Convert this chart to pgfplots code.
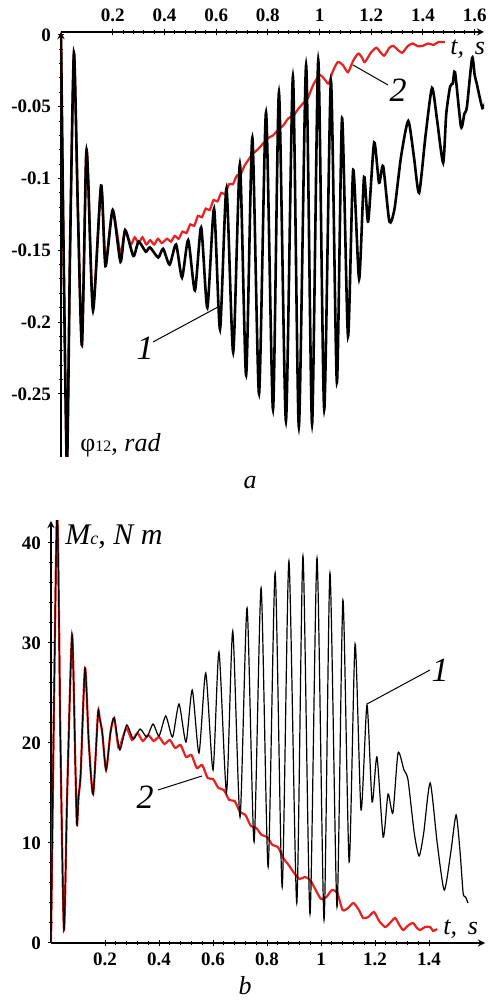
\documentclass[border=0pt]{standalone}
\usepackage{fontspec}
\setmainfont{Liberation Serif}
\usepackage{pgfplots}
\pgfplotsset{compat=1.18}
\definecolor{cred}{RGB}{232,32,32}
\pgfplotsset{
  common/.style={
    scale only axis, anchor=south west,
    axis line style={-, line width=0.6pt},
    tick align=outside,
    major tick length=3pt, minor tick length=1.6pt,
    tick style={black, line width=0.5pt},
    minor x tick num=4, minor y tick num=4,
    /pgf/number format/.cd, fixed, precision=2, assume math mode=true,
  },
}
\begin{document}
\begin{tikzpicture}[x=1pt,y=1pt]
\useasboundingbox (0,0) rectangle (245.5,500.5);
% ---------------- panel a ----------------
\begin{axis}[common,
  width=211.5pt, height=212.5pt, at={(30.5pt,272pt)},
  xmin=0, xmax=1.636, ymin=-0.294, ymax=0.002,
  axis x line=top, axis y line=left,
  xtick={0.2,0.4,0.6,0.8,1,1.2,1.4,1.6},
  ytick={-0.25,-0.2,-0.15,-0.1,-0.05,0},
  every tick label/.append style={font=\fontsize{9.5}{10}\selectfont\bfseries},
]
\addplot[cred, line width=1.1pt, smooth, tension=0.4] coordinates {
(0,0) (0.01,-0.15) (0.023,-0.30) (0.035,-0.15) (0.05,-0.0125) (0.065,-0.12)
(0.081,-0.216) (0.097,-0.085) (0.105,-0.10) (0.124,-0.19) (0.155,-0.105)
(0.172,-0.158) (0.2,-0.122) (0.23,-0.152) (0.248,-0.136) (0.27,-0.146)
(0.285,-0.141) (0.3,-0.145) (0.315,-0.141) (0.33,-0.146) (0.345,-0.143)
(0.36,-0.146) (0.375,-0.142) (0.39,-0.145) (0.41,-0.142) (0.425,-0.144)
(0.44,-0.140) (0.455,-0.142) (0.47,-0.137) (0.485,-0.138) (0.5,-0.132)
(0.515,-0.133) (0.53,-0.126) (0.545,-0.127) (0.56,-0.121) (0.575,-0.122)
(0.59,-0.115) (0.605,-0.116) (0.62,-0.110) (0.635,-0.111) (0.65,-0.104)
(0.665,-0.104) (0.68,-0.098) (0.695,-0.097) (0.71,-0.091) (0.725,-0.087)
(0.74,-0.083) (0.76,-0.080) (0.78,-0.076) (0.8,-0.072) (0.82,-0.070)
(0.84,-0.066) (0.86,-0.063) (0.88,-0.058) (0.9,-0.056) (0.92,-0.051)
(0.94,-0.047) (0.955,-0.044) (0.975,-0.035) (1.0,-0.028) (1.02,-0.031)
(1.035,-0.034) (1.05,-0.026) (1.07,-0.019) (1.09,-0.021) (1.11,-0.026)
(1.13,-0.018) (1.15,-0.013) (1.165,-0.016) (1.175,-0.019) (1.2,-0.012)
(1.22,-0.009) (1.235,-0.012) (1.25,-0.0145) (1.27,-0.009) (1.285,-0.0076)
(1.3,-0.010) (1.32,-0.0125) (1.34,-0.008) (1.36,-0.006) (1.38,-0.008)
(1.40,-0.0076) (1.42,-0.006) (1.44,-0.007) (1.46,-0.005) (1.485,-0.005)
};
\addplot[black, line width=1.3pt, smooth, tension=0.4] coordinates {
(0,0) (0.01,-0.15) (0.023,-0.30) (0.035,-0.15) (0.05,-0.0125) (0.065,-0.12)
(0.081,-0.216) (0.097,-0.085) (0.105,-0.10) (0.124,-0.192) (0.155,-0.105)
(0.172,-0.161) (0.2,-0.122) (0.23,-0.158) (0.248,-0.136) (0.28,-0.154)
(0.3,-0.144) (0.328,-0.151) (0.344,-0.148) (0.376,-0.155) (0.395,-0.149)
(0.42,-0.160) (0.445,-0.146) (0.468,-0.169) (0.492,-0.143) (0.518,-0.178)
(0.542,-0.134) (0.566,-0.190) (0.592,-0.121) (0.615,-0.205) (0.64,-0.107)
(0.666,-0.221) (0.692,-0.090) (0.716,-0.237) (0.74,-0.0715) (0.766,-0.250)
(0.793,-0.054) (0.82,-0.261) (0.843,-0.040) (0.87,-0.269) (0.897,-0.029)
(0.92,-0.273) (0.948,-0.021) (0.971,-0.271) (0.995,-0.0175) (1.018,-0.261)
(1.044,-0.032) (1.067,-0.242) (1.087,-0.058) (1.11,-0.210) (1.13,-0.094)
(1.153,-0.170) (1.172,-0.099) (1.188,-0.130) (1.211,-0.075) (1.23,-0.103)
(1.246,-0.0915) (1.27,-0.13) (1.29,-0.121) (1.315,-0.085) (1.343,-0.06)
(1.365,-0.085) (1.385,-0.11) (1.41,-0.07) (1.435,-0.037) (1.455,-0.06)
(1.478,-0.089) (1.49,-0.055) (1.505,-0.036) (1.515,-0.034) (1.524,-0.026)
(1.547,-0.064) (1.56,-0.055) (1.57,-0.05) (1.59,-0.016) (1.6,-0.028)
(1.608,-0.034) (1.63,-0.051) (1.645,-0.045)
};
\end{axis}
% ---------------- panel b ----------------
\begin{axis}[common,
  width=217pt, height=211pt, at={(25.5pt,29pt)},
  xmin=0, xmax=1.607, ymin=0, ymax=42.2,
  axis x line=bottom, axis y line=left,
  xtick={0.2,0.4,0.6,0.8,1,1.2,1.4},
  ytick={0,10,20,30,40},
  every tick label/.append style={font=\fontsize{9.5}{10}\selectfont\bfseries},
]
\addplot[cred, line width=1.1pt, smooth, tension=0.4] coordinates {
(0,0) (0.022,43) (0.035,20) (0.048,1.3) (0.06,15) (0.078,30.8) (0.09,18)
(0.096,11.8) (0.102,14.6) (0.11,17) (0.126,27.5) (0.14,20) (0.156,14.9)
(0.174,23.0) (0.18,22.5) (0.19,21) (0.204,17.3) (0.22,21) (0.234,22.5)
(0.25,19.5) (0.265,20.5) (0.28,21.5) (0.30,20.3) (0.32,21.0) (0.34,20.2)
(0.36,20.8) (0.38,20.2) (0.40,20.6) (0.42,19.9) (0.44,20.3) (0.46,19.5)
(0.48,19.8) (0.50,18.6) (0.52,18.8) (0.54,17.5) (0.56,17.8) (0.58,16.5)
(0.60,16.4) (0.62,15.5) (0.64,15.3) (0.66,14.3) (0.68,14.2) (0.70,13.1)
(0.72,12.8) (0.74,11.7) (0.76,11.5) (0.78,10.8) (0.80,10.6) (0.82,9.8)
(0.84,9.6) (0.86,8.5) (0.88,7.8) (0.90,7.0) (0.92,6.4) (0.94,6.6) (0.96,6.3)
(0.98,5.3) (1.0,4.4) (1.02,4.6) (1.04,5.3) (1.06,5.0) (1.08,3.3) (1.10,3.5)
(1.12,4.0) (1.14,3.3) (1.156,2.5) (1.175,2.6) (1.196,3.1) (1.215,2.2)
(1.237,1.6) (1.255,2.0) (1.274,2.5) (1.29,1.8) (1.304,1.3) (1.32,1.7)
(1.34,2.0) (1.355,1.5) (1.367,1.3) (1.385,1.6) (1.404,1.6) (1.415,1.2)
(1.43,1.4)
};
\addplot[black, line width=0.6pt, smooth, tension=0.4] coordinates {
(0,0) (0.022,43) (0.035,20) (0.048,1.3) (0.06,15) (0.078,30.8) (0.09,18)
(0.096,11.8) (0.102,14.6) (0.11,17) (0.126,27.5) (0.14,20) (0.156,14.9)
(0.174,23.0) (0.18,22.5) (0.19,21) (0.204,17.3) (0.22,21) (0.234,22.5)
(0.255,19.3) (0.28,21.8) (0.305,20.4) (0.33,21.4) (0.355,20.6) (0.378,21.9)
(0.40,20.7) (0.425,22.7) (0.45,20.6) (0.474,23.9) (0.50,20.1) (0.523,25.3)
(0.548,19.0) (0.573,27.0) (0.60,17.3) (0.622,29.1) (0.65,15.1) (0.673,31.2)
(0.70,12.6) (0.726,33.5) (0.752,10.1) (0.778,35.5) (0.804,7.6) (0.83,37.0)
(0.856,5.6) (0.881,38.2) (0.91,4.0) (0.933,38.7) (0.959,2.9) (0.985,38.5)
(1.011,2.3) (1.033,37.0) (1.059,3.6) (1.081,34.3) (1.104,8.1) (1.126,29.9)
(1.148,13.3) (1.17,23.8) (1.189,14.1) (1.207,18.6) (1.23,10.6) (1.248,14.9)
(1.266,13.0) (1.285,19.0) (1.307,17.3) (1.322,16.3) (1.345,11) (1.363,8.7)
(1.38,11) (1.404,16.0) (1.43,10) (1.456,5.3) (1.48,9) (1.5,12.8) (1.515,9)
(1.526,5.0) (1.535,4.6) (1.544,4.0)
};
\end{axis}
% ---------------- annotations ----------------
\draw[line width=0.5pt] (76.5,329.5) -- (109,347);
\node[font=\fontsize{17}{17}\selectfont\itshape] at (72.5,326.5) {1};
\draw[line width=0.5pt] (176.5,468) -- (194,458);
\node[font=\fontsize{17}{17}\selectfont\itshape] at (199,455.5) {2};
\node[font=\fontsize{13}{13}\selectfont\itshape, anchor=base west, inner sep=0pt] at (225,473) {t,\, s};
\node[font=\fontsize{13}{13}\selectfont, anchor=base west, inner sep=0pt] at (40,274.5) {φ{\fontsize{8}{8}\selectfont 12}, \textit{rad}};
\node[font=\fontsize{13}{13}\selectfont\itshape] at (125,259) {a};
\node[font=\fontsize{15}{15}\selectfont\itshape, anchor=base west, inner sep=0pt] at (32.5,228) {M{\fontsize{9}{9}\selectfont c}, N m};
\draw[line width=0.5pt] (183.5,148.5) -- (215,165.5);
\node[font=\fontsize{17}{17}\selectfont\itshape] at (220,165.5) {1};
\draw[line width=0.5pt] (79,105.5) -- (101,112.5);
\node[font=\fontsize{17}{17}\selectfont\itshape] at (72.5,102) {2};
\node[font=\fontsize{13}{13}\selectfont\itshape, anchor=base west, inner sep=0pt] at (221.5,33) {t,\, s};
\node[font=\fontsize{13}{13}\selectfont\itshape, anchor=base, inner sep=0pt] at (122.5,3) {b};
\end{tikzpicture}
\end{document}
